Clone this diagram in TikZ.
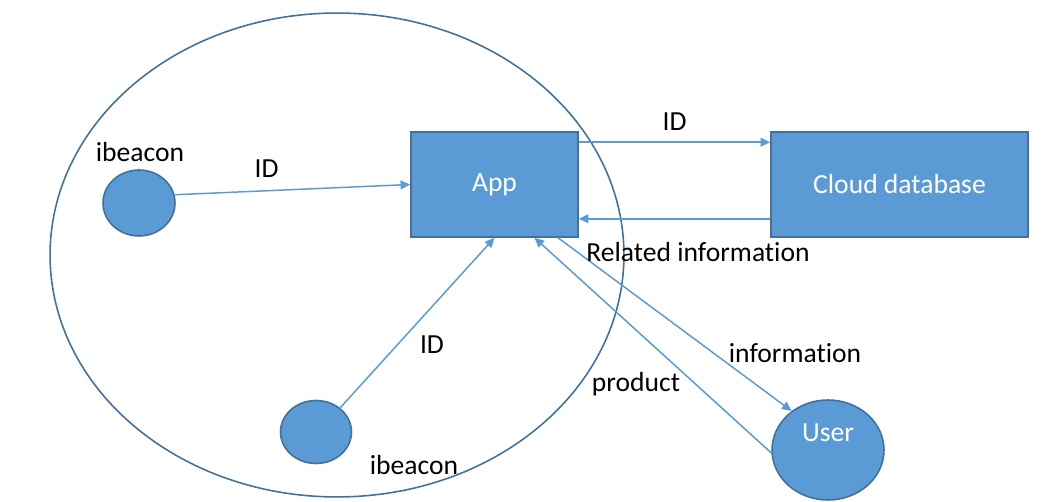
\documentclass[tikz,border=0pt]{standalone}
\usepackage{fontspec}
\setmainfont{Carlito}[Ligatures=NoCommon]
\usetikzlibrary{arrows.meta,shapes.geometric}
\definecolor{boxfill}{HTML}{5B9BD5}
\definecolor{boxline}{HTML}{41719C}

\begin{document}
\begin{tikzpicture}[x=0.02cm, y=-0.02cm,
		every node/.style={font=\fontsize{15.7}{18}\selectfont},
		block/.style={draw=boxline, line width=0.9pt, fill=boxfill, text=white, minimum height=2.1cm, inner sep=0pt},
		beacon/.style={draw=boxline, line width=0.9pt, fill=boxfill, ellipse, inner sep=0pt},
		flow/.style={draw=boxfill, line width=0.85pt, -{Triangle[length=5.5pt,width=5pt]}}]
		%%%%% START %%%%%
		
		\useasboundingbox (0, 0) rectangle (1044, 502);
		
		\node[draw=boxline, line width=0.9pt, ellipse, minimum width=11.48cm, minimum height=9.68cm, inner sep=0pt] (zone) at (337, 255) {};
		
		\node[block, minimum width=3.34cm] (app) at (494.5, 184.5) {App};
		\node[block, minimum width=5.14cm] (cloud) at (899.5, 184.5) {Cloud database};
		
		\node[beacon, minimum width=1.44cm, minimum height=1.32cm] (ibA) at (139, 203) {};
		\node[beacon, minimum width=1.42cm, minimum height=1.26cm] (ibB) at (316, 432) {};
		\node[beacon, minimum width=2.24cm, minimum height=2cm, label={[text=white, yshift=0.34cm]center:User}] (user) at (828, 450) {};
		
		\node (ibAtext) at (140, 152) {ibeacon};
		\node (ibBtext) at (414, 465) {ibeacon};
		
		\draw[flow] (ibA.13) -- (app.west) node[pos=0.39, above=4pt, text=black] (idA) {ID};
		\draw[flow] ([yshift=-0.22cm]app.north east) -- ([yshift=-0.22cm]cloud.north west) node[midway, above=3pt] (idC) {ID};
		\draw[flow] ([yshift=0.38cm]cloud.south west) -- ([yshift=0.38cm]app.south east);
		\draw[flow] (ibB.45) -- (app.south);
		\draw[flow] (user.183) -- ([xshift=0.8cm]app.south);
		\draw[flow] ([xshift=1.27cm]app.south) -- (user.133);
		
		\node (related) at (698, 252) {Related information};
		\node (idB) at (432, 345) {ID};
		\node (info) at (795, 353) {information};
		\node (product) at (636, 384) {product};
		
		%%%%% END %%%%%
	\end{tikzpicture}
\end{document}
